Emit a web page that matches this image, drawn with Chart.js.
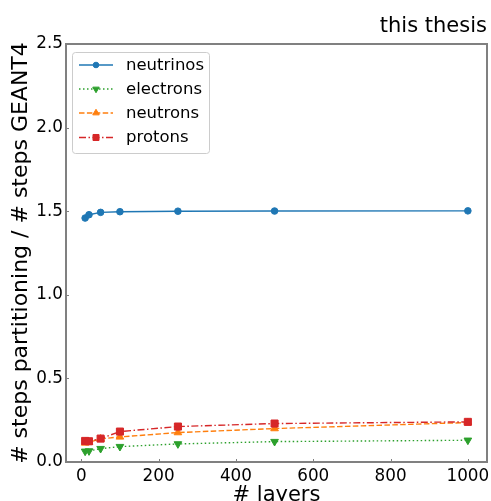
<!DOCTYPE html>
<html>
<head>
<meta charset="utf-8">
<script src="https://cdn.jsdelivr.net/npm/chart.js@4/dist/chart.umd.min.js"></script>
<style>
  html, body { margin: 0; padding: 0; background: #fff; }
  #wrap { width: 491px; height: 501px; position: relative; }
</style>
</head>
<body>
<div id="wrap"><canvas id="c" width="491" height="501"></canvas></div>
<script>
// Number of layers used for the partitioning
const layers = [10, 20, 50, 100, 250, 500, 1000];

// Ratio of steps (partitioning / GEANT4) per particle type
const neutrinos = [1.459, 1.479, 1.493, 1.497, 1.500, 1.501, 1.502];
const electrons = [0.064, 0.066, 0.080, 0.092, 0.108, 0.122, 0.130];
const neutrons  = [0.114, 0.118, 0.138, 0.150, 0.176, 0.200, 0.236];
const protons   = [0.126, 0.124, 0.140, 0.182, 0.212, 0.230, 0.240];

const seriesNames = ['neutrinos', 'electrons', 'neutrons', 'protons'];

const xTicks = [0, 200, 400, 600, 800, 1000];
const yTicks = [0.0, 0.5, 1.0, 1.5, 2.0, 2.5];

const FONT = 'DejaVu Sans';
const SPINE = '#808080';

function pts(ys) { return layers.map((x, i) => ({ x: x, y: ys[i] })); }

const styles = [
  { color: '#1f77b4', dash: [],                 shape: 'circle',   radius: 3.3, rot: 0 },
  { color: '#2ca02c', dash: [1.5, 2.5],         shape: 'triangle', radius: 4.4, rot: 180 },
  { color: '#ff7f0e', dash: [5.5, 2.4],         shape: 'triangle', radius: 4.4, rot: 0 },
  { color: '#d62728', dash: [7, 2.5, 1.5, 2.5], shape: 'rect',     radius: 5.0, rot: 0 }
];
const seriesData = [neutrinos, electrons, neutrons, protons];

const datasets = seriesNames.map((name, i) => ({
  label: name,
  data: pts(seriesData[i]),
  borderColor: styles[i].color,
  backgroundColor: styles[i].color,
  borderWidth: 1.4,
  borderDash: styles[i].dash,
  pointStyle: styles[i].shape,
  pointRadius: styles[i].radius,
  pointRotation: styles[i].rot,
  pointBorderWidth: 1,
  pointBorderColor: styles[i].color,
  pointBackgroundColor: styles[i].color,
  tension: 0,
  order: seriesNames.length - i
}));

// Frame around the plot area with short inward ticks, plus the legend box
const framePlugin = {
  id: 'frame',
  afterDatasetsDraw(chart) {
    const { ctx, chartArea: a, scales } = chart;
    ctx.save();
    ctx.strokeStyle = SPINE;
    ctx.lineWidth = 2;
    ctx.strokeRect(a.left, a.top, a.right - a.left, a.bottom - a.top);
    ctx.lineWidth = 1;
    ctx.beginPath();
    xTicks.forEach(v => {
      const px = Math.round(scales.x.getPixelForValue(v)) + 0.5;
      ctx.moveTo(px, a.bottom); ctx.lineTo(px, a.bottom - 3);
    });
    yTicks.forEach(v => {
      const py = Math.round(scales.y.getPixelForValue(v)) + 0.5;
      ctx.moveTo(a.left, py); ctx.lineTo(a.left + 3, py);
    });
    ctx.stroke();

    // legend
    const bx = 72.5, by = 52.5, bw = 137, bh = 101;
    ctx.fillStyle = 'rgba(255,255,255,0.8)';
    ctx.strokeStyle = '#cccccc';
    ctx.lineWidth = 1;
    ctx.beginPath();
    if (ctx.roundRect) ctx.roundRect(bx, by, bw, bh, 3); else ctx.rect(bx, by, bw, bh);
    ctx.fill();
    ctx.stroke();
    const rowY = [65, 89, 113, 137.5];
    chart.data.datasets.forEach((ds, i) => {
      const y = rowY[i];
      ctx.strokeStyle = ds.borderColor;
      ctx.lineWidth = 1.4;
      ctx.setLineDash(ds.borderDash);
      ctx.beginPath();
      ctx.moveTo(79, y); ctx.lineTo(113, y);
      ctx.stroke();
      ctx.setLineDash([]);
      ctx.fillStyle = ds.borderColor;
      ctx.strokeStyle = ds.borderColor;
      ctx.lineWidth = 1;
      Chart.helpers.drawPoint(ctx, {
        pointStyle: ds.pointStyle,
        rotation: ds.pointRotation,
        radius: ds.pointRadius * 0.85,
        borderWidth: 1
      }, 96, y);
      ctx.fillStyle = '#000';
      ctx.font = '16.5px "' + FONT + '"';
      ctx.textBaseline = 'middle';
      ctx.textAlign = 'left';
      ctx.fillText(ds.label, 126, y + 0.5);
    });
    ctx.restore();
  }
};

new Chart(document.getElementById('c'), {
  type: 'line',
  data: { datasets: datasets },
  options: {
    responsive: false,
    animation: false,
    devicePixelRatio: 1,
    layout: { autoPadding: false, padding: { left: 0, right: 4, top: 0, bottom: 0 } },
    plugins: {
      legend: { display: false },
      tooltip: { enabled: false },
      title: {
        display: true,
        text: 'this thesis',
        align: 'end',
        color: '#000',
        font: { family: FONT, size: 21, weight: 'normal', lineHeight: 1 },
        padding: { top: 16, bottom: 7 }
      }
    },
    scales: {
      x: {
        type: 'linear',
        min: -39.5,
        max: 1049.5,
        afterBuildTicks: s => { s.ticks = xTicks.map(v => ({ value: v })); },
        afterFit: s => { s.height = 39; s.paddingLeft = 0; s.paddingRight = 0; },
        grid: { display: false, drawTicks: false },
        border: { display: false },
        ticks: {
          color: '#000',
          padding: 5,
          maxRotation: 0,
          autoSkip: false,
          font: { family: FONT, size: 16.8 },
          callback: v => String(v)
        },
        title: {
          display: true,
          text: '# layers',
          color: '#000',
          font: { family: FONT, size: 21, lineHeight: 1 },
          padding: { top: 0, bottom: -5 }
        }
      },
      y: {
        type: 'linear',
        min: 0,
        max: 2.5,
        afterBuildTicks: s => { s.ticks = yTicks.map(v => ({ value: v })); },
        afterFit: s => { s.width = 66; s.paddingTop = 0; s.paddingBottom = 0; },
        grid: { display: false, drawTicks: false },
        border: { display: false },
        ticks: {
          color: '#000',
          padding: 3,
          autoSkip: false,
          font: { family: FONT, size: 16.8 },
          callback: v => Number(v).toFixed(1)
        },
        title: {
          display: true,
          text: '# steps partitioning / # steps GEANT4',
          color: '#000',
          font: { family: FONT, size: 22, lineHeight: 1 },
          padding: { top: 10, bottom: 0 }
        }
      }
    }
  },
  plugins: [framePlugin]
});
</script>
</body>
</html>
